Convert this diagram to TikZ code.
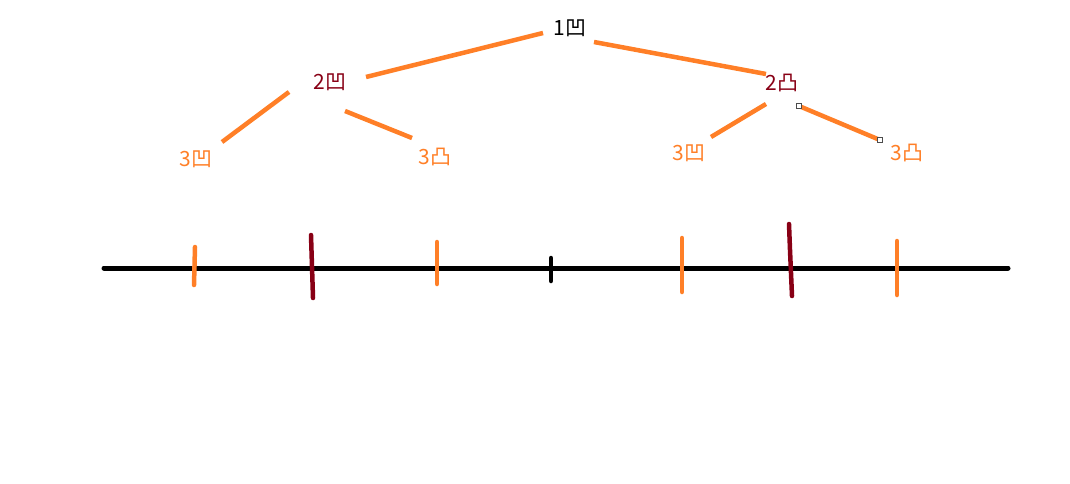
\documentclass[tikz,border=0pt]{standalone}
\usepackage{fontspec}
\newfontfamily\cjk{Noto Sans CJK SC}
\usetikzlibrary{calc}
\definecolor{paintorange}{HTML}{FF7F27}
\definecolor{paintred}{HTML}{880015}
\tikzset{
  lbl/.style={font=\cjk\fontsize{21}{23}\selectfont, inner sep=1pt},
  conn/.style={line width=4.5pt, color=paintorange},
  tick/.style={line width=4.5pt, line cap=round},
  handle/.style={draw=black!70, fill=white, line width=0.8pt, minimum size=5pt, inner sep=0pt}
}

\begin{document}
\begin{tikzpicture}[x=1pt, y=-1pt]
			%%%%% START %%%%%
			\useasboundingbox (0, 0) rectangle (1070, 484);
			
			\node[lbl, text=black] (n1) at (570, 28) {1凹};
			\node[lbl, text=paintred] (n2a) at (330, 82) {2凹};
			\node[lbl, text=paintred] (n2b) at (782, 83) {2凸};
			\node[lbl, text=paintorange] (n3a) at (196, 159) {3凹};
			\node[lbl, text=paintorange] (n3b) at (435, 157) {3凸};
			\node[lbl, text=paintorange] (n3c) at (689, 153) {3凹};
			\node[lbl, text=paintorange] (n3d) at (907, 153) {3凸};
			
			\draw[conn] ($(n2a)+(36,-5)$) -- ($(n1)+(-27,5)$);
			\draw[conn] ($(n1)+(24,14)$) -- ($(n2b)+(-16,-9)$);
			\draw[conn] ($(n2a)+(-41,10)$) -- ($(n3a)+(26,-17)$);
			\draw[conn] ($(n2a)+(15,29)$) -- ($(n3b)+(-23,-19)$);
			\draw[conn] ($(n2b)+(-16,21)$) -- ($(n3c)+(22,-16)$);
			\draw[conn] ($(n2b)+(17,23)$) -- ($(n3d)+(-27,-13)$)
			  node[handle, pos=0] (h1) {} node[handle, pos=1] (h2) {};
			
			%% number line
			\draw[line width=5pt, line cap=round] (104, 268) -- (1008, 268);
			
			\draw[tick, paintorange] (195, 247) -- (194, 285);
			\draw[tick, paintred] (311, 235) -- (313, 298);
			\draw[tick, paintorange] (437, 242) -- (437, 284);
			\draw[tick, black] (551, 258) -- (551, 281);
			\draw[tick, paintorange] (682, 238) -- (682, 292);
			\draw[tick, paintred] (789, 224) -- (790, 250) -- (792, 296);
			\draw[tick, paintorange] (897, 241) -- (897, 295);
			
			%%%%% END %%%%%
\end{tikzpicture}
\end{document}
